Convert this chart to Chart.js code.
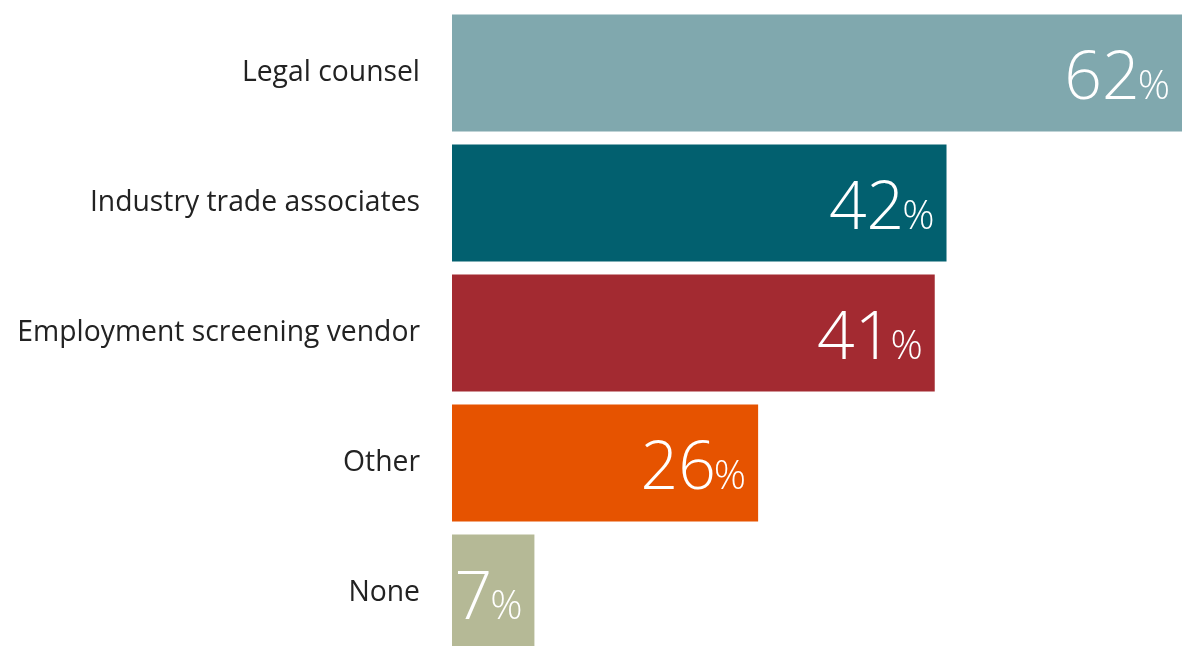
<!DOCTYPE html>
<html>
<head>
<meta charset="utf-8">
<script src="https://cdn.jsdelivr.net/npm/chart.js@4.4.0/dist/chart.umd.min.js"></script>
<style>
  html, body { margin: 0; padding: 0; background: #fff; overflow: hidden; }
  #wrap { width: 1182px; height: 658px; }
</style>
</head>
<body>
<div id="wrap"><canvas id="grafico" width="1182" height="658"></canvas></div>
<script>
const categorias = ["Legal counsel", "Industry trade associates", "Employment screening vendor", "Other", "None"];
const valores = [62, 42, 41, 26, 7];
const cores = ["#80a8ae", "#02606f", "#a32a31", "#e65300", "#b5b996"];

// desenha "62%" dentro da barra, numero grande e % pequeno
const rotulosValor = {
  id: 'rotulosValor',
  afterDatasetsDraw(chart) {
    const ctx = chart.ctx;
    const meta = chart.getDatasetMeta(0);
    ctx.save();
    ctx.fillStyle = '#ffffff';
    ctx.textBaseline = 'alphabetic';
    ctx.textAlign = 'right';
    meta.data.forEach((barra, i) => {
      const direita = barra.x - 12;
      const base = barra.y + 26;
      ctx.font = '300 40px "Open Sans"';
      const largPct = ctx.measureText('%').width;
      ctx.fillText('%', direita, base);
      ctx.font = '300 66px "Open Sans"';
      ctx.fillText(String(valores[i]), direita - largPct + 2, base);
    });
    ctx.restore();
  }
};

const ctx = document.getElementById('grafico').getContext('2d');
const grafico = new Chart(ctx, {
  type: 'bar',
  data: {
    labels: categorias,
    datasets: [{
      data: valores,
      backgroundColor: cores,
      borderWidth: 0,
      categoryPercentage: 0.9,
      barPercentage: 1
    }]
  },
  options: {
    indexAxis: 'y',
    responsive: false,
    animation: false,
    layout: { padding: { top: 8, right: 0, bottom: 0, left: 0 } },
    plugins: {
      legend: { display: false },
      tooltip: { enabled: false }
    },
    scales: {
      x: {
        display: false,
        min: 0,
        max: 62
      },
      y: {
        grid: { display: false },
        border: { display: false },
        ticks: {
          color: '#222222',
          padding: 24,
          font: { family: 'Open Sans', size: 28.3 }
        },
        afterFit(scale) {
          scale.width = 452;
          scale.paddingTop = 0;
          scale.paddingBottom = 0;
        }
      }
    }
  },
  plugins: [rotulosValor]
});
</script>
</body>
</html>
